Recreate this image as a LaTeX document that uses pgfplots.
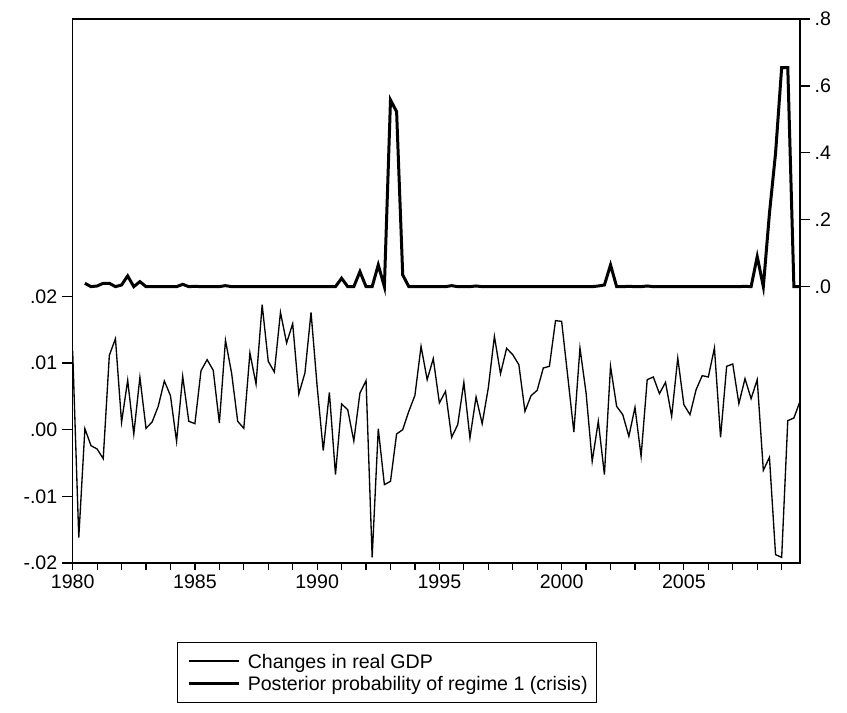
\documentclass[border=0pt]{standalone}
\usepackage{fontspec}
\setmainfont{Liberation Sans}
\usepackage{pgfplots}
\usepackage{pgfplotstable}
\pgfplotsset{compat=1.18}
\newcommand{\lf}{\fontsize{14.7}{17}\selectfont}

\pgfplotstableread{
x y
1980.00 0.01180
1980.25 -0.01620
1980.50 0.00015
1980.75 -0.00240
1981.00 -0.00290
1981.25 -0.00435
1981.50 0.01115
1981.75 0.01365
1982.00 0.00110
1982.25 0.00740
1982.50 -0.00065
1982.75 0.00785
1983.00 0.00020
1983.25 0.00115
1983.50 0.00350
1983.75 0.00730
1984.00 0.00510
1984.25 -0.00175
1984.50 0.00800
1984.75 0.00125
1985.00 0.00090
1985.25 0.00885
1985.50 0.01050
1985.75 0.00890
1986.00 0.00100
1986.25 0.01340
1986.50 0.00850
1986.75 0.00125
1987.00 0.00020
1987.25 0.01150
1987.50 0.00685
1987.75 0.01875
1988.00 0.01025
1988.25 0.00865
1988.50 0.01760
1988.75 0.01300
1989.00 0.01590
1989.25 0.00535
1989.50 0.00850
1989.75 0.01760
1990.00 0.00650
1990.25 -0.00315
1990.50 0.00560
1990.75 -0.00675
1991.00 0.00385
1991.25 0.00300
1991.50 -0.00170
1991.75 0.00550
1992.00 0.00735
1992.25 -0.01915
1992.50 0.00015
1992.75 -0.00825
1993.00 -0.00775
1993.25 -0.00065
1993.50 0.00000
1993.75 0.00275
1994.00 0.00515
1994.25 0.01250
1994.50 0.00750
1994.75 0.01065
1995.00 0.00400
1995.25 0.00575
1995.50 -0.00115
1995.75 0.00075
1996.00 0.00710
1996.25 -0.00125
1996.50 0.00490
1996.75 0.00090
1997.00 0.00625
1997.25 0.01400
1997.50 0.00840
1997.75 0.01220
1998.00 0.01125
1998.25 0.00975
1998.50 0.00275
1998.75 0.00510
1999.00 0.00590
1999.25 0.00925
1999.50 0.00950
1999.75 0.01635
2000.00 0.01625
2000.25 0.00800
2000.50 -0.00035
2000.75 0.01225
2001.00 0.00550
2001.25 -0.00475
2001.50 0.00125
2001.75 -0.00675
2002.00 0.00950
2002.25 0.00350
2002.50 0.00225
2002.75 -0.00100
2003.00 0.00335
2003.25 -0.00400
2003.50 0.00750
2003.75 0.00790
2004.00 0.00540
2004.25 0.00710
2004.50 0.00200
2004.75 0.01075
2005.00 0.00375
2005.25 0.00225
2005.50 0.00600
2005.75 0.00810
2006.00 0.00790
2006.25 0.01225
2006.50 -0.00115
2006.75 0.00950
2007.00 0.00985
2007.25 0.00390
2007.50 0.00765
2007.75 0.00465
2008.00 0.00750
2008.25 -0.00610
2008.50 -0.00415
2008.75 -0.01875
2009.00 -0.01915
2009.25 0.00135
2009.50 0.00175
2009.75 0.00425
}\gdptable

\pgfplotstableread{
x y
1980.50 0.010
1980.75 0.000
1981.00 0.002
1981.25 0.010
1981.50 0.010
1981.75 0.000
1982.00 0.005
1982.25 0.032
1982.50 0.000
1982.75 0.015
1983.00 0.000
1983.25 0.000
1983.50 0.000
1983.75 0.000
1984.00 0.000
1984.25 0.000
1984.50 0.007
1984.75 0.000
1985.00 0.001
1985.25 0.000
1985.50 0.000
1985.75 0.000
1986.00 0.000
1986.25 0.003
1986.50 0.000
1986.75 0.000
1987.00 0.000
1987.25 0.000
1987.50 0.000
1987.75 0.000
1988.00 0.000
1988.25 0.000
1988.50 0.000
1988.75 0.000
1989.00 0.000
1989.25 0.000
1989.50 0.000
1989.75 0.000
1990.00 0.000
1990.25 0.000
1990.50 0.000
1990.75 0.000
1991.00 0.025
1991.25 0.000
1991.50 0.000
1991.75 0.045
1992.00 0.000
1992.25 0.000
1992.50 0.065
1992.75 0.000
1993.00 0.558
1993.25 0.523
1993.50 0.035
1993.75 0.000
1994.00 0.000
1994.25 0.000
1994.50 0.000
1994.75 0.000
1995.00 0.000
1995.25 0.000
1995.50 0.003
1995.75 0.000
1996.00 0.000
1996.25 0.000
1996.50 0.002
1996.75 0.000
1997.00 0.000
1997.25 0.000
1997.50 0.000
1997.75 0.000
1998.00 0.000
1998.25 0.000
1998.50 0.000
1998.75 0.000
1999.00 0.000
1999.25 0.000
1999.50 0.000
1999.75 0.000
2000.00 0.000
2000.25 0.000
2000.50 0.000
2000.75 0.000
2001.00 0.000
2001.25 0.000
2001.50 0.002
2001.75 0.005
2002.00 0.065
2002.25 0.000
2002.50 0.000
2002.75 0.001
2003.00 0.000
2003.25 0.000
2003.50 0.002
2003.75 0.000
2004.00 0.000
2004.25 0.000
2004.50 0.000
2004.75 0.000
2005.00 0.000
2005.25 0.000
2005.50 0.000
2005.75 0.000
2006.00 0.000
2006.25 0.000
2006.50 0.000
2006.75 0.000
2007.00 0.000
2007.25 0.000
2007.50 0.001
2007.75 0.000
2008.00 0.090
2008.25 0.000
2008.50 0.219
2008.75 0.399
2009.00 0.655
2009.25 0.655
2009.50 0.000
2009.75 0.000
}\probtable

\pgfplotsset{
  common/.style={
    at={(54.5pt,112.5pt)}, anchor=south west,
    scale only axis, width=545.5pt, height=408pt,
    xmin=1980, xmax=2009.75,
    tick align=outside,
    scaled x ticks=false, scaled y ticks=false,
    tick label style={font=\lf, black},
    axis line style={line width=0.9pt, black},
    tick style={black, line width=0.9pt},
  }
}

\begin{document}
\begin{tikzpicture}
\useasboundingbox (0,0) rectangle (635.25pt,534.75pt);

% GDP on the left axis, full frame
\begin{axis}[common,
  ymin=-0.02, ymax=0.0616,
  xtick=\empty,
  ytick={-0.02,-0.01,0,0.01,0.02},
  yticklabels={-.02,-.01,.00,.01,.02},
  ytick pos=left,
  major tick length=8pt,
]
\addplot[black, line width=1pt] table[x=x,y=y] {\gdptable};
\end{axis}

% x ticks
\begin{axis}[common,
  ymin=0, ymax=1,
  hide y axis,
  axis x line*=bottom,
  xtick={1980,1985,1990,1995,2000,2005},
  xticklabels={1980,1985,1990,1995,2000,2005},
  minor xtick={1981,1982,...,2009},
  major tick length=5pt,
  minor tick length=5pt,
]
\addplot[draw=none] coordinates {(1980,0.5)};
\end{axis}

% posterior probability on the right axis
\begin{axis}[common,
  ymin=-0.826, ymax=0.8,
  axis y line*=right,
  axis x line=none,
  ytick={0,0.2,0.4,0.6,0.8},
  yticklabels={.0,.2,.4,.6,.8},
  major tick length=7.5pt,
  legend cell align=left,
  legend image code/.code={\draw[#1] (0pt,0pt) -- (38pt,0pt);},
  legend style={
    at={(axis description cs:0.1438,-0.1452)}, anchor=north west,
    draw=black, line width=0.75pt, fill=white,
    inner xsep=7pt, inner ysep=7pt,
    font=\lf,
    row sep=3.3pt,
    nodes={inner sep=0pt, text height=12.3pt, text depth=1.4pt},
    /tikz/every odd column/.append style={column sep=5.25pt},
  },
]
\addlegendimage{black, line width=1pt}
\addlegendentry{Changes in real GDP}
\addplot[black, line width=2.25pt] table[x=x,y=y] {\probtable};
\addlegendentry{Posterior probability of regime 1 (crisis)}
\end{axis}
\end{tikzpicture}
\end{document}
